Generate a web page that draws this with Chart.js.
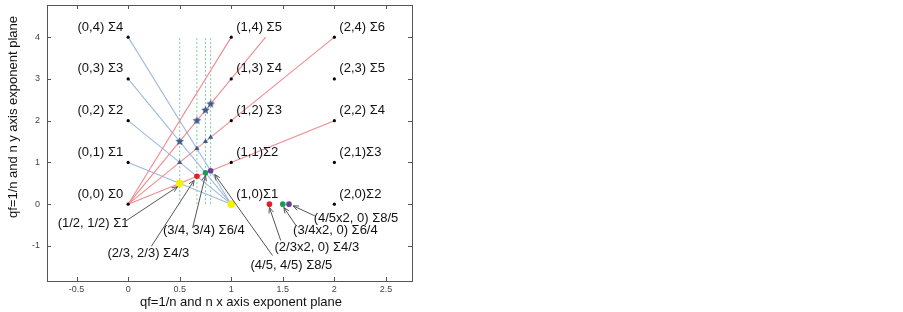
<!DOCTYPE html>
<html>
<head>
<meta charset="utf-8">
<script src="https://cdn.jsdelivr.net/npm/chart.js@4/dist/chart.umd.min.js"></script>
<style>
  html, body { margin: 0; padding: 0; background: #fff; }
  #wrap { width: 903px; height: 312px; position: relative; }
</style>
</head>
<body>
<div id="wrap"><canvas id="plane"></canvas></div>
<script>
// Axis ticks.
var xTicks = [-0.5, 0, 0.5, 1, 1.5, 2, 2.5];
var yTicks = [-1, 0, 1, 2, 3, 4];

// Lattice points (n_x, n_y) and their labels.
var gridX = [0, 1, 2];
var gridY = [0, 1, 2, 3, 4];
var gridLabels = [
	['(0,0) Σ0', '(0,1) Σ1', '(0,2) Σ2', '(0,3) Σ3', '(0,4) Σ4'],
	['(1,0)Σ1', '(1,1)Σ2', '(1,2) Σ3', '(1,3) Σ4', '(1,4) Σ5'],
	['(2,0)Σ2', '(2,1)Σ3', '(2,2) Σ4', '(2,3) Σ5', '(2,4) Σ6']
];

// Red rays from the origin, blue rays into (1,0).
var redEnds = [[1, 4], [4 / 3, 4], [2, 4], [2, 2]];
var blueStarts = [[0, 4], [0, 3], [0, 2], [0, 1]];
var blueEnd = [1, 0];

// qf = 1/n guide lines.
var qfValues = [1 / 2, 2 / 3, 3 / 4, 4 / 5];
var qfTop = 4;

// Marked intersections.
var starPts = [[0.5, 1.5], [0.667, 2], [0.75, 2.25], [0.8, 2.4]];
var trianglePts = [[0.5, 1], [0.667, 1.333], [0.75, 1.5], [0.8, 1.6]];
var yellowPts = [[0.5, 0.5], [1, 0]];
var redPts = [[0.667, 0.667], [1.37, 0]];
var greenPts = [[0.75, 0.75], [1.5, 0]];
var purplePts = [[0.8, 0.8], [1.56, 0]];

// Annotations: text, text centre, arrow tail, arrow head (data units).
var noteText = ['(1/2, 1/2) Σ1', '(2/3, 2/3) Σ4/3', '(3/4, 3/4) Σ6/4', '(4/5, 4/5) Σ8/5',
	'(2/3x2, 0) Σ4/3', '(3/4x2, 0) Σ6/4', '(4/5x2, 0) Σ8/5'];
var noteAt = [[-0.34, -0.46], [0.196, -1.17], [0.734, -0.63], [1.583, -1.46],
	[1.83, -1.04], [2.01, -0.63], [2.21, -0.33]];
var arrowFrom = [[-0.02, -0.40], [0.225, -1.01], [0.625, -0.57], [1.40, -1.23],
	[1.48, -0.87], [1.63, -0.52], [1.81, -0.28]];
var arrowTo = [[0.48, 0.42], [0.64, 0.57], [0.75, 0.69], [0.84, 0.71],
	[1.37, -0.08], [1.51, -0.08], [1.60, -0.04]];

function pts(list) {
	return list.map(function(p) { return { x: p[0], y: p[1] }; });
}

function makeStar(r, color) {
	var c = document.createElement('canvas');
	c.width = c.height = 2 * r + 2;
	var g = c.getContext('2d');
	g.beginPath();
	for (var i = 0; i < 10; i++) {
		var a = -Math.PI / 2 + i * Math.PI / 5;
		var rr = i % 2 ? r * 0.45 : r;
		var px = r + 1 + rr * Math.cos(a), py = r + 1 + rr * Math.sin(a);
		if (i === 0) g.moveTo(px, py); else g.lineTo(px, py);
	}
	g.closePath();
	g.fillStyle = color;
	g.fill();
	return c;
}

var datasets = [];

redEnds.forEach(function(e) {
	datasets.push({ data: pts([[0, 0], e]), showLine: true, borderColor: '#f28a8f', borderWidth: 1.1, pointRadius: 0, order: 5 });
});
blueStarts.forEach(function(s) {
	datasets.push({ data: pts([s, blueEnd]), showLine: true, borderColor: '#9fbadc', borderWidth: 1.1, pointRadius: 0, order: 5 });
});
qfValues.forEach(function(q) {
	datasets.push({ data: pts([[q, 0], [q, qfTop]]), showLine: true, borderColor: '#79cfa0', borderWidth: 1, borderDash: [2, 2], pointRadius: 0, order: 6 });
});

var lattice = [];
gridX.forEach(function(gx) {
	gridY.forEach(function(gy) { lattice.push([gx, gy]); });
});
datasets.push({ data: pts(lattice), pointRadius: 1.6, pointBackgroundColor: '#000', pointBorderWidth: 0, order: 2 });
datasets.push({ data: pts(starPts), pointStyle: makeStar(4.5, '#3e5d8a'), order: 1 });
datasets.push({ data: pts(trianglePts), pointStyle: 'triangle', pointRadius: 3, pointBackgroundColor: '#3e5d8a', pointBorderWidth: 0, order: 1 });
datasets.push({ data: pts(yellowPts), pointRadius: 3.8, pointBackgroundColor: '#f5f200', pointBorderWidth: 0, order: 0 });
datasets.push({ data: pts(redPts), pointRadius: 2.8, pointBackgroundColor: '#e3202a', pointBorderWidth: 0, order: 0 });
datasets.push({ data: pts(greenPts), pointRadius: 2.8, pointBackgroundColor: '#1b9a58', pointBorderWidth: 0, order: 0 });
datasets.push({ data: pts(purplePts), pointRadius: 2.8, pointBackgroundColor: '#6a3f9e', pointBorderWidth: 0, order: 0 });

var overlay = {
	id: 'overlay',
	afterDatasetsDraw: function(chart) {
		var ctx = chart.ctx, xs = chart.scales.x, ys = chart.scales.y;
		ctx.save();

		// Arrows.
		ctx.strokeStyle = '#555';
		ctx.lineWidth = 1;
		arrowFrom.forEach(function(f, i) {
			var x0 = xs.getPixelForValue(f[0]), y0 = ys.getPixelForValue(f[1]);
			var x1 = xs.getPixelForValue(arrowTo[i][0]), y1 = ys.getPixelForValue(arrowTo[i][1]);
			var ang = Math.atan2(y1 - y0, x1 - x0);
			ctx.beginPath();
			ctx.moveTo(x0, y0);
			ctx.lineTo(x1, y1);
			ctx.moveTo(x1 - 6 * Math.cos(ang - 0.4), y1 - 6 * Math.sin(ang - 0.4));
			ctx.lineTo(x1, y1);
			ctx.lineTo(x1 - 6 * Math.cos(ang + 0.4), y1 - 6 * Math.sin(ang + 0.4));
			ctx.stroke();
		});

		// Text.
		ctx.fillStyle = '#111';
		ctx.font = '13px "Liberation Sans", Arial, sans-serif';
		ctx.textBaseline = 'middle';
		gridX.forEach(function(gx, i) {
			gridY.forEach(function(gy, j) {
				var px = xs.getPixelForValue(gx), py = ys.getPixelForValue(gy);
				if (i === 0) {
					ctx.textAlign = 'right';
					ctx.fillText(gridLabels[i][j], px - 5, py - 10);
				} else {
					ctx.textAlign = 'left';
					ctx.fillText(gridLabels[i][j], px + 5, py - 10);
				}
			});
		});
		ctx.textAlign = 'center';
		noteText.forEach(function(t, i) {
			ctx.fillText(t, xs.getPixelForValue(noteAt[i][0]), ys.getPixelForValue(noteAt[i][1]));
		});
		ctx.restore();
	},
	afterDraw: function(chart) {
		var ctx = chart.ctx, a = chart.chartArea, xs = chart.scales.x, ys = chart.scales.y;
		ctx.save();
		ctx.strokeStyle = '#555';
		ctx.lineWidth = 1;
		ctx.strokeRect(Math.round(a.left) + 0.5, Math.round(a.top) + 0.5, Math.round(a.right - a.left), Math.round(a.bottom - a.top));
		ctx.beginPath();
		xTicks.forEach(function(v) {
			var px = Math.round(xs.getPixelForValue(v)) + 0.5;
			ctx.moveTo(px, a.bottom); ctx.lineTo(px, a.bottom - 4);
			ctx.moveTo(px, a.top); ctx.lineTo(px, a.top + 4);
		});
		yTicks.forEach(function(v) {
			var py = Math.round(ys.getPixelForValue(v)) + 0.5;
			ctx.moveTo(a.left, py); ctx.lineTo(a.left + 4, py);
			ctx.moveTo(a.right, py); ctx.lineTo(a.right - 4, py);
		});
		ctx.stroke();

		// Axis titles.
		ctx.fillStyle = '#111';
		ctx.font = '13px "Liberation Sans", Arial, sans-serif';
		ctx.textAlign = 'center';
		ctx.textBaseline = 'middle';
		ctx.fillText('qf=1/n and n x axis exponent plane', 241, 302);
		ctx.translate(13, 117);
		ctx.rotate(-Math.PI / 2);
		ctx.fillText('qf=1/n and n y axis exponent plane', 0, 0);
		ctx.restore();
	}
};

function noPad(s) {
	s.paddingTop = 0;
	s.paddingBottom = 0;
	s.paddingLeft = 0;
	s.paddingRight = 0;
}

new Chart(document.getElementById('plane'), {
	type: 'scatter',
	data: { datasets: datasets },
	options: {
		responsive: true,
		maintainAspectRatio: false,
		animation: false,
		layout: { padding: { top: 0, right: 491, left: 0, bottom: 0 } },
		plugins: {
			legend: { display: false },
			tooltip: { enabled: false }
		},
		scales: {
			x: {
				type: 'linear',
				min: -0.787,
				max: 2.753,
				grid: { display: false, drawTicks: false },
				border: { display: false },
				afterBuildTicks: function(s) { s.ticks = xTicks.map(function(v) { return { value: v }; }); },
				afterFit: function(s) { s.height = 31; noPad(s); },
				ticks: {
					padding: 3,
					color: '#444',
					font: { size: 9, family: 'Arial' },
					callback: function(v) { return String(v); }
				}
			},
			y: {
				type: 'linear',
				min: -1.84,
				max: 4.77,
				grid: { display: false, drawTicks: false },
				border: { display: false },
				afterBuildTicks: function(s) { s.ticks = yTicks.map(function(v) { return { value: v }; }); },
				afterFit: function(s) { s.width = 47; noPad(s); },
				ticks: {
					padding: 7,
					color: '#444',
					font: { size: 9, family: 'Arial' },
					callback: function(v) { return String(v); }
				}
			}
		}
	},
	plugins: [overlay]
});
</script>
</body>
</html>
